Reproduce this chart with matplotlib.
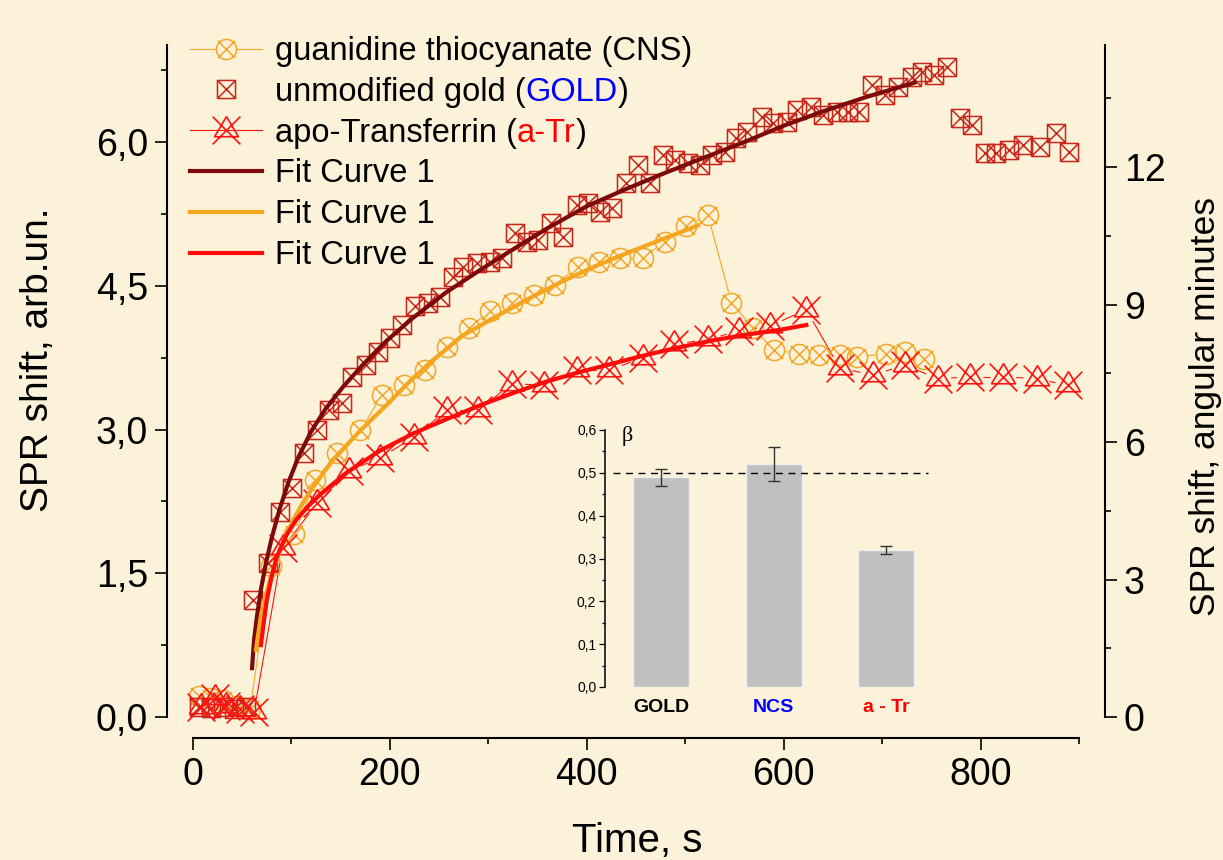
import numpy as np
import matplotlib.pyplot as plt
from matplotlib.path import Path
from matplotlib.lines import Line2D
from matplotlib.collections import LineCollection
from matplotlib.ticker import MultipleLocator, FuncFormatter

plt.rcParams['font.family'] = ['Liberation Sans', 'DejaVu Sans']

# ---- data (time in s, shift in arb.un.) ----
time_gold = [6, 18, 30, 42, 54, 61, 76, 88, 101, 113, 126, 138, 151, 162, 176,
             188, 200, 212, 226, 239, 251, 264, 274, 288, 302, 314, 327, 339, 350,
             364, 376, 390, 401, 413, 426, 440, 452, 464, 477, 490, 503, 515, 527,
             540, 552, 563, 578, 589, 603, 614, 628, 640, 654, 665, 677, 690, 703,
             716, 730, 741, 753, 766, 779, 791, 804, 816, 829, 843, 860, 877, 890]
shift_gold = [0.10, 0.09, 0.10, 0.08, 0.10, 1.22, 1.61, 2.14, 2.39, 2.75, 2.99, 3.20,
              3.28, 3.55, 3.67, 3.81, 3.95, 4.09, 4.29, 4.32, 4.38, 4.59, 4.70, 4.74,
              4.75, 4.79, 5.05, 4.96, 4.98, 5.15, 5.01, 5.34, 5.36, 5.27, 5.31, 5.57,
              5.76, 5.57, 5.86, 5.81, 5.78, 5.76, 5.86, 5.90, 6.04, 6.10, 6.26, 6.20,
              6.21, 6.33, 6.37, 6.28, 6.31, 6.31, 6.31, 6.60, 6.49, 6.57, 6.68, 6.73,
              6.70, 6.78, 6.25, 6.18, 5.89, 5.89, 5.92, 5.97, 5.95, 6.09, 5.90]

time_cns = [6, 18, 30, 44, 58, 79, 103, 124, 146, 170, 192, 214, 236, 258, 280,
            302, 324, 346, 368, 391, 412, 434, 457, 479, 501, 523, 547, 569, 590,
            616, 636, 657, 674, 704, 723, 743]
shift_cns = [0.22, 0.20, 0.18, 0.12, 0.08, 1.58, 1.91, 2.47, 2.75, 2.99, 3.36, 3.46,
             3.62, 3.86, 4.06, 4.24, 4.32, 4.40, 4.51, 4.70, 4.75, 4.79, 4.79, 4.96,
             5.12, 5.24, 4.32, 4.06, 3.83, 3.79, 3.78, 3.78, 3.76, 3.79, 3.81, 3.74]

time_atr = [8, 22, 34, 48, 62, 91, 126, 158, 190, 224, 258, 290, 324, 357, 390,
            423, 457, 489, 523, 555, 586, 623, 657, 691, 723, 757, 789, 823, 857, 889]
shift_atr = [0.10, 0.20, 0.12, 0.08, 0.05, 1.76, 2.23, 2.57, 2.70, 2.92, 3.20, 3.20,
             3.48, 3.46, 3.62, 3.62, 3.75, 3.89, 3.94, 4.03, 4.08, 4.25, 3.64, 3.57,
             3.67, 3.53, 3.55, 3.55, 3.53, 3.46]

# fit curves, read point by point
fit_gold_t = [60, 62, 65, 69, 74, 80, 88, 97, 107, 120, 135, 152, 172, 196, 224,
              257, 291, 322, 360, 400, 440, 480, 520, 560, 600, 640, 684, 733]
fit_gold_v = [0.51, 0.80, 1.05, 1.33, 1.60, 1.87, 2.17, 2.45, 2.71, 2.98, 3.22, 3.44,
              3.67, 3.92, 4.17, 4.43, 4.66, 4.86, 5.10, 5.33, 5.51, 5.68, 5.84, 6.00,
              6.17, 6.32, 6.47, 6.62]
fit_cns_t = [64, 66, 69, 73, 79, 85, 93, 102, 112, 122, 142, 170, 197, 220, 241,
             274, 308, 342, 376, 410, 443, 478, 513]
fit_cns_v = [0.70, 0.85, 1.05, 1.24, 1.46, 1.64, 1.86, 2.06, 2.24, 2.40, 2.68, 2.99,
             3.26, 3.50, 3.70, 3.98, 4.18, 4.37, 4.55, 4.71, 4.85, 4.99, 5.13]
fit_atr_t = [69, 72, 75, 80, 85, 95, 105, 117, 129, 156, 190, 224, 258, 291, 325,
             359, 393, 427, 461, 495, 528, 562, 596, 623]
fit_atr_v = [0.75, 1.00, 1.22, 1.47, 1.67, 1.90, 2.06, 2.20, 2.32, 2.55, 2.78, 2.96,
             3.11, 3.25, 3.38, 3.50, 3.60, 3.69, 3.78, 3.86, 3.93, 3.99, 4.04, 4.09]

# inset: beta exponents
beta_names = ['GOLD', 'NCS', 'a - Tr']
beta_vals = [0.49, 0.52, 0.32]
beta_errs = [0.02, 0.04, 0.01]
beta_name_colors = ['black', 'blue', 'red']
beta_ref = 0.5

# ---- styling ----
bg = '#FCF2D9'
c_gold = '#C8261A'
c_cns = '#F3A72A'
c_atr = '#FF1414'
c_fit_gold = '#7D0A0A'
c_fit_cns = '#F5A51E'
c_fit_atr = '#FF0A0A'

M, L = Path.MOVETO, Path.LINETO
square_x = Path([(-1, -1), (1, -1), (1, 1), (-1, 1), (-1, -1),
                 (-1, -1), (1, 1), (-1, 1), (1, -1)],
                [M, L, L, L, L, M, L, M, L])
circle_x = Path.make_compound_path(
    Path.unit_circle(),
    Path([(-0.85, -0.85), (0.85, 0.85), (-0.85, 0.85), (0.85, -0.85)], [M, L, M, L]))
tri_x = Path([(0, 1), (-0.86, -0.45), (0.86, -0.45), (0, 1),
              (-1, -1), (1, 1), (-1, 1), (1, -1)],
             [M, L, L, L, M, L, M, L])

W, H = 1223, 860
fig = plt.figure(figsize=(W / 100, H / 100), dpi=100)
fig.patch.set_facecolor(bg)

# axes box in pixels: left spine x=167, right spine x=1105, top y=45, x-axis y=738
ax = fig.add_axes([167 / W, (H - 738) / H, (1105 - 167) / W, (738 - 45) / H])
ax.set_facecolor('none')
px_t = 0.985      # pixels per second
px_v = 95.83      # pixels per arb.un.
ax.set_xlim(-26 / px_t, 900 + 26 / px_t)
ylo, yhi = -21 / px_v, 672 / px_v
ax.set_ylim(ylo, yhi)


def gapped_segments(t, v, gap):
    # Origin-style connecting line: leave a gap of `gap` pixels round each point
    pts = ax.transData.transform(np.column_stack([t, v]))
    inv = ax.transData.inverted()
    segs = []
    for p, q in zip(pts[:-1], pts[1:]):
        d = q - p
        n = np.hypot(*d)
        if n > 2 * gap:
            u = d / n
            segs.append(inv.transform([p + u * gap, q - u * gap]))
    return segs


ax.add_collection(LineCollection(gapped_segments(time_cns, shift_cns, 11),
                                 colors=c_cns, linewidths=0.8))
ax.add_collection(LineCollection(gapped_segments(time_atr, shift_atr, 13),
                                 colors=c_atr, linewidths=0.8))

ax.plot(time_cns, shift_cns, ls='none', marker=circle_x, ms=14.5, mfc='none',
        mec=c_cns, mew=1.1, clip_on=False)
ax.plot(time_gold, shift_gold, ls='none', marker=square_x, ms=13,
        mfc='none', mec=c_gold, mew=1.1, clip_on=False)
ax.plot(time_atr, shift_atr, ls='none', marker=tri_x, ms=20,
        mfc='none', mec=c_atr, mew=1.2, clip_on=False)
f_gold, = ax.plot(fit_gold_t, fit_gold_v, color=c_fit_gold, lw=3, label='Fit Curve 1')
f_cns, = ax.plot(fit_cns_t, fit_cns_v, color=c_fit_cns, lw=3, label='Fit Curve 1')
f_atr, = ax.plot(fit_atr_t, fit_atr_v, color=c_fit_atr, lw=3, label='Fit Curve 1')

comma = FuncFormatter(lambda v, p: f'{v:.1f}'.replace('.', ','))
ax.xaxis.set_major_locator(MultipleLocator(200))
ax.xaxis.set_minor_locator(MultipleLocator(100))
ax.yaxis.set_major_locator(MultipleLocator(1.5))
ax.yaxis.set_minor_locator(MultipleLocator(0.75))
ax.yaxis.set_major_formatter(comma)
ax.tick_params(which='major', direction='out', length=8.6, width=1.2,
               labelsize=27, pad=5)
ax.tick_params(which='minor', direction='out', length=4.3, width=1.2)
for s in ['top', 'right']:
    ax.spines[s].set_visible(False)
ax.spines['bottom'].set_bounds(0, 900)
ax.spines['left'].set_bounds(0, yhi)
for s in ['bottom', 'left']:
    ax.spines[s].set_linewidth(1.5)

# right axis in angular minutes
k = 2.091
ax2 = ax.twinx()
ax2.set_ylim(ylo * k, yhi * k)
ax2.yaxis.set_major_locator(MultipleLocator(3))
ax2.yaxis.set_minor_locator(MultipleLocator(1.5))
ax2.tick_params(which='major', direction='out', length=8.6, width=1.2,
                labelsize=27, pad=5)
ax2.tick_params(which='minor', direction='out', length=4.3, width=1.2)
for s in ['top', 'left', 'bottom']:
    ax2.spines[s].set_visible(False)
ax2.spines['right'].set_bounds(0, yhi * k)
ax2.spines['right'].set_linewidth(1.5)

fig.text(637 / W, 1 - 852 / H, 'Time, s', fontsize=29, ha='center', va='baseline')
fig.text(38 / W, 1 - 360 / H, 'SPR shift, arb.un.', fontsize=28, rotation=90,
         ha='center', va='center')
fig.text(1205 / W, 1 - 406 / H, 'SPR shift, angular minutes', fontsize=25.5,
         rotation=90, ha='center', va='center')

# legend with coloured abbreviations; marker face hides the line inside
h_cns = Line2D([], [], color=c_cns, lw=0.8, marker=circle_x, ms=14.5, mfc=bg,
               mec=c_cns, mew=1.1, label='guanidine thiocyanate (CNS)')
h_gold = Line2D([], [], ls='none', marker=square_x, ms=13, mfc='none',
                mec=c_gold, mew=1.1, label='unmodified gold (')
h_atr = Line2D([], [], color=c_atr, lw=0.8, marker=tri_x, ms=20, mfc='none',
               mec=c_atr, mew=1.2, label='apo-Transferrin (')
fs_leg = 23.5
leg = ax.legend(handles=[h_cns, h_gold, h_atr, f_gold, f_cns, f_atr],
                loc='upper left', bbox_to_anchor=(190 / W, 1 - 36 / H),
                bbox_transform=fig.transFigure, frameon=False, fontsize=fs_leg,
                handlelength=2.2, handletextpad=0.4, labelspacing=0.3,
                borderpad=0, borderaxespad=0, numpoints=1)
texts = leg.get_texts()
for txt, word, col in [(texts[1], 'GOLD', 'blue'), (texts[2], 'a-Tr', 'red')]:
    a = ax.annotate(word, xy=(1, 0), xycoords=txt, ha='left', va='bottom',
                    fontsize=fs_leg, color=col, zorder=10)
    ax.annotate(')', xy=(1, 0), xycoords=a, ha='left', va='bottom',
                fontsize=fs_leg, color='black', zorder=10)

# ---- inset bar chart ----
axi = fig.add_axes([605 / W, (H - 687) / H, 325 / W, 257 / H])
axi.set_facecolor('none')
xs = range(len(beta_names))
axi.bar(xs, beta_vals, width=0.5, color='#C0C0C0', edgecolor='#EEEEEE', lw=1)
axi.errorbar(xs, beta_vals, yerr=beta_errs, fmt='none', ecolor='#333333',
             elinewidth=1, capsize=4, capthick=1)
axi.axhline(beta_ref, xmin=0.025, xmax=0.995, color='black', lw=1, ls=(0, (5, 4)))
axi.set_xlim(-0.5, 2.39)
axi.set_ylim(0, 0.6)
axi.yaxis.set_major_locator(MultipleLocator(0.1))
axi.yaxis.set_minor_locator(MultipleLocator(0.05))
axi.yaxis.set_major_formatter(comma)
axi.tick_params(axis='y', which='major', direction='out', length=4.3, width=0.9,
                labelsize=10, pad=2)
axi.tick_params(axis='y', which='minor', direction='out', length=2.2, width=0.9)
axi.set_xticks(list(xs))
axi.set_xticklabels(beta_names, fontsize=14, fontweight='bold')
for lab, col in zip(axi.get_xticklabels(), beta_name_colors):
    lab.set_color(col)
axi.tick_params(axis='x', length=0, pad=8.5)
for s in ['top', 'right', 'bottom']:
    axi.spines[s].set_visible(False)
axi.spines['left'].set_linewidth(1.1)
axi.text(-0.3, 0.585, 'β', fontsize=16, family=['Liberation Serif', 'DejaVu Serif'],
         ha='center', va='center')

fig.savefig('out.png', dpi=100, facecolor=bg)
